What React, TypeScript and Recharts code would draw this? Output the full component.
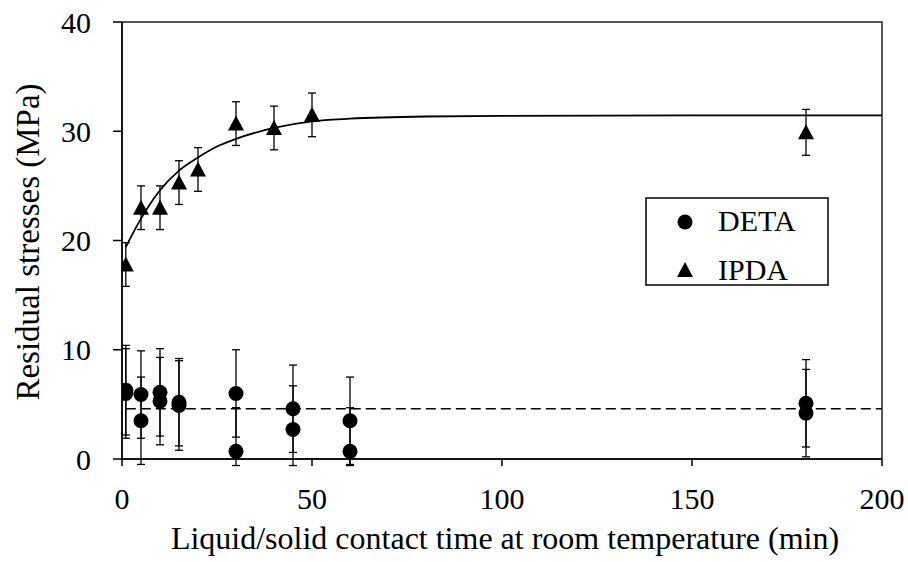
import React from 'react';
import { ComposedChart, Scatter, Line, XAxis, YAxis, ErrorBar, ReferenceArea } from 'recharts';

// DETA: two specimens per contact time
const detaTime = [1, 1, 5, 5, 10, 10, 15, 15, 30, 30, 45, 45, 60, 60, 180, 180];
const detaStress = [6.3, 6.0, 5.9, 3.5, 6.1, 5.3, 5.2, 4.9, 6.0, 0.7, 4.6, 2.7, 3.5, 0.7, 5.1, 4.2];
const detaErrDown = [4.1, 4.1, 4.0, 4.0, 4.0, 4.0, 4.0, 4.1, 4.0, 1.3, 4.0, 3.3, 4.0, 1.3, 4.0, 4.0];
const detaErrUp = [4.1, 4.1, 4.0, 4.0, 4.0, 4.0, 4.0, 4.1, 4.0, 4.0, 4.0, 4.0, 4.0, 4.0, 4.0, 4.0];

// IPDA
const ipdaTime = [1, 5, 10, 15, 20, 30, 40, 50, 180];
const ipdaStress = [17.8, 23.0, 23.0, 25.3, 26.5, 30.7, 30.3, 31.5, 29.9];
const ipdaErr = [2.0, 2.0, 2.0, 2.0, 2.0, 2.0, 2.0, 2.0, 2.1];

// fitted curve for IPDA
const fitTime = [1, 5, 10, 15, 20, 25, 30, 40, 50, 60, 80, 100, 150, 200];
const fitStress = [19.4, 22.0, 24.6, 26.4, 27.6, 28.6, 29.3, 30.3, 30.9, 31.15, 31.35, 31.4, 31.45, 31.45];

// DETA mean level
const meanTime = [1, 200];
const meanStress = [4.6, 4.6];

const xTicks = [0, 50, 100, 150, 200];
const yTicks = [0, 10, 20, 30, 40];

const FONT = '"Liberation Serif", "Times New Roman", serif';

const detaData = detaTime.map((x, i) => ({ x, y: detaStress[i], err: [detaErrDown[i], detaErrUp[i]] }));
const ipdaData = ipdaTime.map((x, i) => ({ x, y: ipdaStress[i], err: [ipdaErr[i], ipdaErr[i]] }));
const fitData = fitTime.map((x, i) => ({ x, y: fitStress[i] }));
const meanData = meanTime.map((x, i) => ({ x, y: meanStress[i] }));

const Dot = (props: any) => <circle cx={props.cx} cy={props.cy} r={7.5} fill="#000" />;
const Tri = (props: any) => {
  const { cx, cy } = props;
  return <polygon points={`${cx},${cy - 8} ${cx - 8},${cy + 7} ${cx + 8},${cy + 7}`} fill="#000" />;
};

const YLabel = () => (
  <text x={28} y={242} transform="rotate(-90 28 242)" textAnchor="middle" dominantBaseline="central"
    fontFamily={FONT} fontSize={33} fill="#000">
    Residual stresses (MPa)
  </text>
);

const XLabel = () => (
  <text x={505} y={549} textAnchor="middle" fontFamily={FONT} fontSize={32} fill="#000">
    Liquid/solid contact time at room temperature (min)
  </text>
);

const tickStyle = { fill: '#000', fontSize: 30, fontFamily: FONT };

export default function App() {
  return (
    <div style={{ position: 'absolute', left: 0, top: 0, width: 908, height: 562, background: '#fff' }}>
      <ComposedChart width={908} height={562} margin={{ top: 22, right: 26, bottom: 0, left: 0 }}>
        <XAxis dataKey="x" type="number" domain={[0, 200]} ticks={xTicks} height={103}
          tickSize={7} tickMargin={22} tick={tickStyle} stroke="#000" strokeWidth={1.5}
          label={<XLabel />} allowDataOverflow />
        <YAxis type="number" domain={[0, 40]} ticks={yTicks} width={122}
          tickSize={9} tickMargin={22} tick={tickStyle} stroke="#000" strokeWidth={1.5}
          label={<YLabel />} allowDataOverflow />
        <ReferenceArea x1={0} x2={200} y1={0} y2={40} fill="none" stroke="#222" strokeWidth={1.5} />
        <Line data={meanData} dataKey="y" stroke="#000" strokeWidth={1.5} strokeDasharray="10 5"
          dot={false} activeDot={false} isAnimationActive={false} />
        <Line data={fitData} dataKey="y" type="monotone" stroke="#000" strokeWidth={1.8}
          dot={false} activeDot={false} isAnimationActive={false} />
        <Scatter data={detaData} dataKey="y" shape={<Dot />} isAnimationActive={false}>
          <ErrorBar dataKey="err" direction="y" width={4} stroke="#000" strokeWidth={1.3} />
        </Scatter>
        <Scatter data={ipdaData} dataKey="y" shape={<Tri />} isAnimationActive={false}>
          <ErrorBar dataKey="err" direction="y" width={4} stroke="#000" strokeWidth={1.3} />
        </Scatter>
      </ComposedChart>
      <svg width={184} height={89} style={{ position: 'absolute', left: 645, top: 197 }}>
        <rect x={1} y={1} width={182} height={87} fill="#fff" stroke="#000" strokeWidth={1.5} />
        <circle cx={40} cy={25} r={7.5} fill="#000" />
        <text x={73} y={34} fontFamily={FONT} fontSize={30} fill="#000">DETA</text>
        <polygon points="40,65 32,80 48,80" fill="#000" />
        <text x={73} y={83} fontFamily={FONT} fontSize={30} fill="#000">IPDA</text>
      </svg>
    </div>
  );
}
